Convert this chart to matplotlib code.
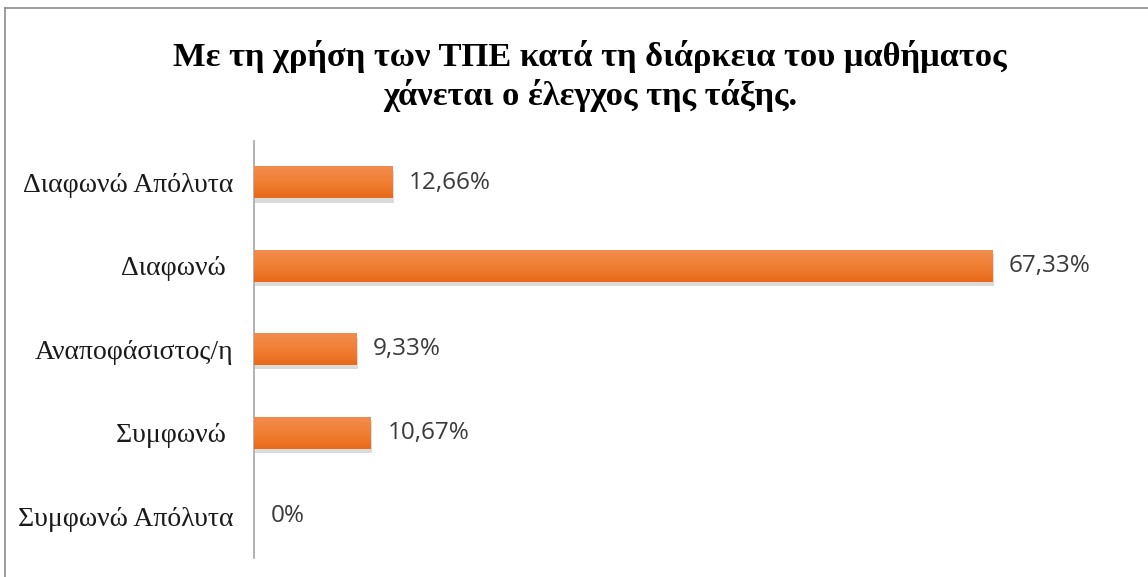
import matplotlib.pyplot as plt
import matplotlib.patheffects as pe
import numpy as np
from matplotlib.colors import LinearSegmentedColormap
from matplotlib.lines import Line2D

categories = ["Διαφωνώ Απόλυτα", "Διαφωνώ ", "Αναποφάσιστος/η", "Συμφωνώ ", "Συμφωνώ Απόλυτα"]
percentages = [12.66, 67.33, 9.33, 10.67, 0.0]
value_labels = ["12,66%", "67,33%", "9,33%", "10,67%", "0%"]
title = "Με τη χρήση των ΤΠΕ κατά τη διάρκεια του μαθήματος\nχάνεται ο έλεγχος της τάξης."

fig = plt.figure(figsize=(11.48, 5.77), dpi=100)
ax = fig.add_axes([0.2213, 0.033, 0.764, 0.723])

y = np.arange(len(categories))
bars = ax.barh(y, percentages, height=0.38, color="#ED7D31", zorder=2,
               path_effects=[pe.SimplePatchShadow(offset=(1, -3), shadow_rgbFace="#b0b0b0", alpha=0.45),
                             pe.Normal()])

# vertical shading on each bar: lighter top, darker bottom
grad = LinearSegmentedColormap.from_list("bar", ["#F28C4E", "#F07F33", "#E8691A"])
for b in bars:
    w = b.get_width()
    if w <= 0:
        continue
    yb = b.get_y()
    h = b.get_height()
    ax.imshow(np.linspace(0, 1, 64).reshape(-1, 1), cmap=grad, aspect="auto",
              extent=(0, w, yb + h, yb), origin="upper", zorder=3)

for v, lab, yy in zip(percentages, value_labels, y):
    ax.text(v + 1.5, yy, lab, va="center", ha="left", fontsize=17.5,
            family="Open Sans", color="#3a3a3a")

ax.set_xlim(0, 80)
ax.set_ylim(len(categories) - 0.5, -0.5)
ax.set_yticks(y)
ax.set_yticklabels(categories, family="Liberation Serif", fontsize=20, color="#1a1a1a")
ax.tick_params(axis="y", length=0, pad=15)
ax.set_xticks([])
for s in ["top", "right", "bottom"]:
    ax.spines[s].set_visible(False)
ax.spines["left"].set_color("#A6A6A6")
ax.spines["left"].set_linewidth(1.2)

fig.text(0.514, 0.868, title, ha="center", va="center", fontsize=24.8,
         family="Liberation Serif", weight="bold", linespacing=1.25)

# chart frame (top and left edges)
fig.add_artist(Line2D([5 / 1148, 5 / 1148], [0, 1 - 8 / 577], transform=fig.transFigure,
                      color="#8c8c8c", lw=1.2))
fig.add_artist(Line2D([5 / 1148, 1], [1 - 8 / 577, 1 - 8 / 577], transform=fig.transFigure,
                      color="#8c8c8c", lw=1.2))

fig.savefig("out.png", dpi=100)
